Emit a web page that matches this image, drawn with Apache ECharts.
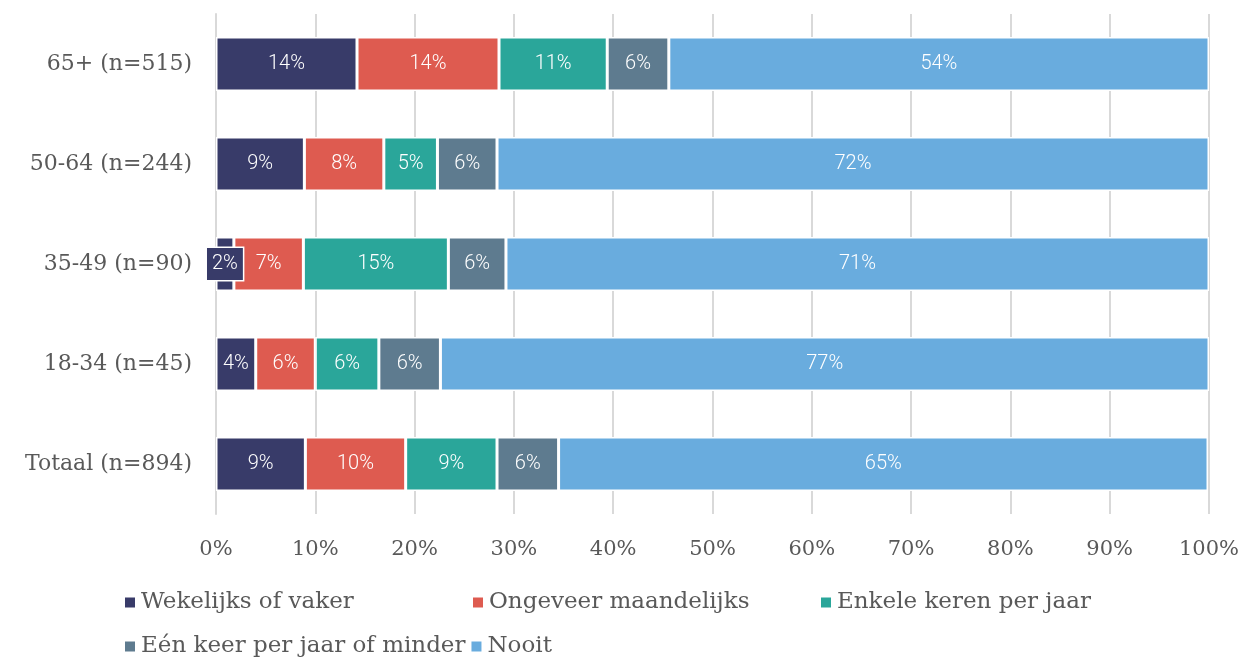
<!DOCTYPE html>
<html>
<head>
<meta charset="utf-8">
<script src="https://cdn.jsdelivr.net/npm/echarts@6/dist/echarts.min.js"></script>
<style>
  html, body { margin: 0; padding: 0; background: #fff; }
  #main { width: 1244px; height: 659px; }
</style>
</head>
<body>
<div id="main"></div>
<script>
// categories, top to bottom
var categories = ['65+ (n=515)', '50-64 (n=244)', '35-49 (n=90)', '18-34 (n=45)', 'Totaal (n=894)'];
var seriesNames = ['Wekelijks of vaker', 'Ongeveer maandelijks', 'Enkele keren per jaar', 'Eén keer per jaar of minder', 'Nooit'];

// percentages per series, in category order
var wekelijks   = [14.2, 8.9, 1.8, 4.0, 9.0];
var maandelijks = [14.3, 8.0, 7.0, 6.0, 10.1];
var enkele      = [10.9, 5.4, 14.6, 6.4, 9.2];
var eenKeer     = [6.2, 6.0, 5.8, 6.2, 6.2];
var nooit       = [54.4, 71.7, 70.8, 77.4, 65.4];

var xTicks = ['0%', '10%', '20%', '30%', '40%', '50%', '60%', '70%', '80%', '90%', '100%'];

var colors = ['#383B69', '#DE5B50', '#2AA69A', '#5E7B8F', '#69ACDE'];
var allValues = [wekelijks, maandelijks, enkele, eenKeer, nooit];

var serifFont = 'DejaVu Serif';
var textGrey = '#595959';

var series = allValues.map(function (vals, i) {
    return {
        name: seriesNames[i],
        type: 'bar',
        stack: 'total',
        barWidth: 54,
        itemStyle: { color: colors[i], borderColor: '#fff', borderWidth: 1.5 },
        label: {
            show: true,
            position: 'inside',
            color: '#fff',
            fontFamily: 'Roboto',
            fontWeight: 300,
            fontSize: 20,
            formatter: function (p) { return Math.round(p.value) + '%'; }
        },
        data: vals.map(function (v) {
            // tiny segments get a boxed label like the original
            if (v < 3) {
                return {
                    value: v,
                    label: {
                        backgroundColor: colors[i],
                        borderColor: '#fff',
                        borderWidth: 1.5,
                        padding: [7, 5, 5, 5]
                    }
                };
            }
            return v;
        })
    };
});

function legendAt(names, left, top) {
    return {
        data: names,
        left: left, top: top,
        icon: 'rect', itemWidth: 12, itemHeight: 12, itemGap: 4,
        textStyle: { fontFamily: serifFont, fontSize: 23, color: textGrey }
    };
}

var chart = echarts.init(document.getElementById('main'));
chart.setOption({
    animation: false,
    grid: { left: 216, right: 35, top: 14, bottom: 145, containLabel: false },
    legend: [
        legendAt([seriesNames[0]], 118, 586),
        legendAt([seriesNames[1]], 466, 586),
        legendAt([seriesNames[2]], 814, 586),
        legendAt(seriesNames.slice(3), 118, 630)
    ],
    xAxis: {
        type: 'value',
        min: 0, max: 100, interval: 10,
        axisLine: { show: false },
        axisTick: { show: false },
        splitLine: { show: true, lineStyle: { color: '#D9D9D9', width: 2 } },
        axisLabel: {
            margin: 25,
            fontFamily: serifFont, fontSize: 21, color: textGrey,
            formatter: function (v) { return xTicks[Math.round(v / 10)]; }
        }
    },
    yAxis: {
        type: 'category',
        inverse: true,
        data: categories,
        axisLine: { show: true, lineStyle: { color: '#D9D9D9', width: 2 } },
        axisTick: { show: false },
        axisLabel: { margin: 24, fontFamily: serifFont, fontSize: 22, color: textGrey }
    },
    series: series
});
</script>
</body>
</html>
